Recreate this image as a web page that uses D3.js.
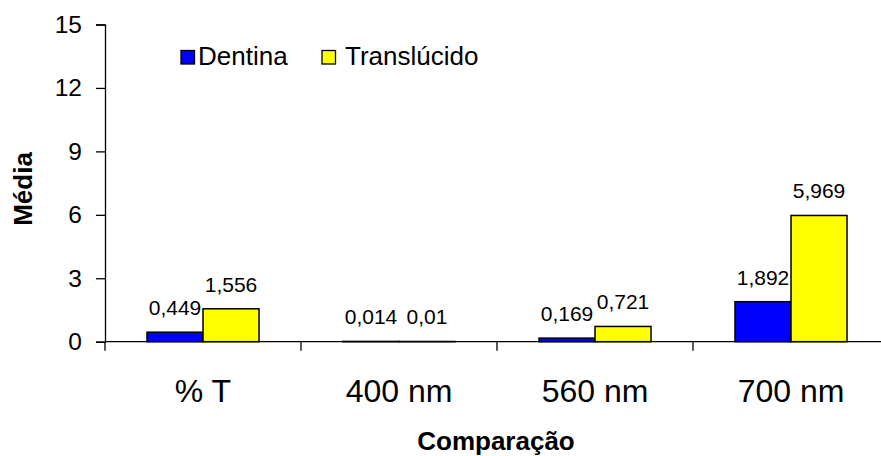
<!DOCTYPE html>
<html>
<head>
<meta charset="utf-8">
<script src="https://cdn.jsdelivr.net/npm/d3@7"></script>
<style>
  html, body { margin: 0; padding: 0; background: #fff; }
  svg { display: block; font-family: Arial, "Liberation Sans", sans-serif; }
</style>
</head>
<body>
<svg id="chart" width="881" height="456"></svg>
<script>
const categories = ["% T", "400 nm", "560 nm", "700 nm"];
const seriesNames = ["Dentina", "Translúcido"];
const dentina = [0.449, 0.014, 0.169, 1.892];
const translucido = [1.556, 0.01, 0.721, 5.969];
const valueLabelsDentina = ["0,449", "0,014", "0,169", "1,892"];
const valueLabelsTranslucido = ["1,556", "0,01", "0,721", "5,969"];
const yTicks = [0, 3, 6, 9, 12, 15];
const colors = ["#0000FF", "#FFFF00"];

(function () {
const svg = d3.select("#chart");
const mLeft = 105, mRight = 889, mTop = 24.5, mBottom = 341.7;

const x0 = d3.scaleBand().domain(categories).range([mLeft, mRight]).padding(0);
const x1 = d3.scaleBand().domain(seriesNames).range([0, x0.bandwidth()]).paddingInner(0).paddingOuter(0.75);
const y = d3.scaleLinear().domain([0, 15]).range([mBottom, mTop]);

const seriesVals = [dentina, translucido];
const seriesLabels = [valueLabelsDentina, valueLabelsTranslucido];

// Bars
seriesNames.forEach((s, si) => {
  svg.append("g").selectAll("rect")
    .data(categories.map((c, i) => ({ c, v: seriesVals[si][i] })))
    .join("rect")
    .attr("x", d => x0(d.c) + x1(s))
    .attr("y", d => y(d.v))
    .attr("width", x1.bandwidth())
    .attr("height", d => y(0) - y(d.v))
    .attr("fill", colors[si])
    .attr("stroke", "#000")
    .attr("stroke-width", 1.5);
});

// Value labels
seriesNames.forEach((s, si) => {
  svg.append("g").selectAll("text")
    .data(categories.map((c, i) => ({ c, v: seriesVals[si][i], t: seriesLabels[si][i] })))
    .join("text")
    .attr("x", d => x0(d.c) + x1(s) + x1.bandwidth() / 2)
    .attr("y", d => y(d.v) - 17)
    .attr("text-anchor", "middle")
    .attr("font-size", "21px")
    .attr("fill", "#000")
    .text(d => d.t);
});

// Y axis
const yAxis = d3.axisLeft(y).tickValues(yTicks).tickSize(9).tickPadding(14).tickFormat(d3.format("d"));
const gy = svg.append("g").attr("transform", `translate(${mLeft},0)`).call(yAxis);
gy.select(".domain").attr("stroke", "#000").attr("stroke-width", 1.3);
gy.selectAll(".tick line").attr("stroke", "#000").attr("stroke-width", 1.3);
gy.selectAll(".tick text").attr("font-size", "24.5px").attr("font-family", "Arial, 'Liberation Sans', sans-serif").attr("fill", "#000");

// X axis line
svg.append("line")
  .attr("x1", mLeft).attr("x2", 881)
  .attr("y1", y(0)).attr("y2", y(0))
  .attr("stroke", "#000").attr("stroke-width", 1.3);

// X category boundary ticks
const boundaries = categories.map(c => x0(c)).concat([x0(categories[categories.length - 1]) + x0.bandwidth()]);
svg.append("g").selectAll("line")
  .data(boundaries)
  .join("line")
  .attr("x1", d => d).attr("x2", d => d)
  .attr("y1", y(0)).attr("y2", y(0) + 9)
  .attr("stroke", "#000").attr("stroke-width", 1.3);

// Category labels
svg.append("g").selectAll("text")
  .data(categories)
  .join("text")
  .attr("x", d => x0(d) + x0.bandwidth() / 2)
  .attr("y", 401.7)
  .attr("text-anchor", "middle")
  .attr("font-size", "32px")
  .attr("fill", "#000")
  .text(d => d);

// Axis titles
svg.append("text")
  .attr("x", 496).attr("y", 450)
  .attr("text-anchor", "middle")
  .attr("font-size", "26px").attr("font-weight", "bold")
  .text("Comparação");

svg.append("text")
  .attr("transform", "translate(32,189) rotate(-90)")
  .attr("text-anchor", "middle")
  .attr("font-size", "26px").attr("font-weight", "bold")
  .text("Média");

// Legend
const legendItems = [
  { name: seriesNames[0], color: colors[0], sx: 181, tx: 198 },
  { name: seriesNames[1], color: colors[1], sx: 322, tx: 345 }
];
const lg = svg.append("g");
legendItems.forEach(it => {
  lg.append("rect")
    .attr("x", it.sx).attr("y", 50.5)
    .attr("width", 13.5).attr("height", 13.5)
    .attr("fill", it.color).attr("stroke", "#000").attr("stroke-width", 1.3);
  lg.append("text")
    .attr("x", it.tx).attr("y", 65)
    .attr("font-size", "26px")
    .attr("fill", "#000")
    .text(it.name);
});
})();
</script>
</body>
</html>
